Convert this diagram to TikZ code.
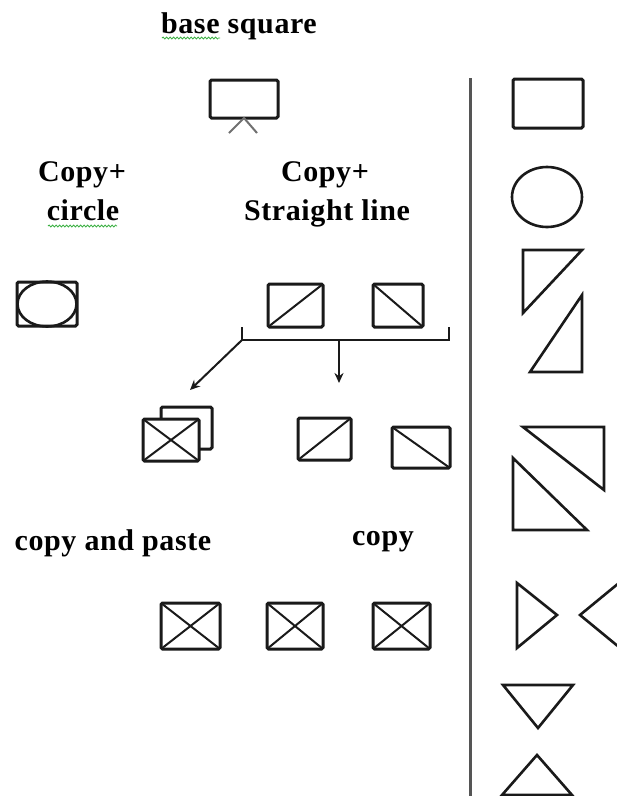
\documentclass[tikz,border=0pt]{standalone}
\usepackage{fontspec}
\setmainfont{Liberation Serif}[LetterSpace=2]
\usetikzlibrary{arrows.meta,decorations.pathmorphing,shapes.geometric}
\definecolor{ink}{HTML}{1A1A1A}
\definecolor{rule}{HTML}{555555}
\definecolor{standgray}{HTML}{707070}
\definecolor{spell}{HTML}{3CB043}
\tikzset{
  lbl/.style={anchor=base,inner sep=0pt,font=\fontsize{30}{34}\selectfont\bfseries,text=black},
  box/.style={draw=ink,line width=3pt,rounded corners=1.5pt,outer sep=0pt,inner sep=0pt,rectangle},
  diag/.style={draw=ink,line width=2pt},
  shp/.style={draw=ink,line width=2.6pt,line join=miter},
  conn/.style={draw=ink,line width=2pt},
  arr/.style={conn,-{Stealth[length=10pt,width=9pt]}},
  wavy/.style={draw=spell,line width=0.8pt,decorate,decoration={snake,segment length=3.5pt,amplitude=1pt}}
}
\begin{document}
\begin{tikzpicture}[x=1pt,y=-1pt]
\useasboundingbox (0,0) rectangle (617,796);
\fill[white] (0,0) rectangle (617,796);
% texts
\node[lbl] (tbase) at (239,33) {base square};
\node[lbl] (tcopy1) at (82,181) {Copy+};
\node[lbl] (tcircle) at (83,220) {circle};
\node[lbl] (tcopy2) at (325,181) {Copy+};
\node[lbl] (tline) at (327,220) {Straight line};
\node[lbl] (tpaste) at (113,550) {copy and paste};
\node[lbl] (tcopy3) at (383,545) {copy};
% spell-check underlines
\coordinate (w1a) at (162,38); \coordinate (w1b) at (220,38);
\draw[wavy] (w1a) -- (w1b);
\coordinate (w2a) at (48,226); \coordinate (w2b) at (117,226);
\draw[wavy] (w2a) -- (w2b);
% base square with stand
\node[box,minimum width=68pt,minimum height=38pt] (base) at (244,99) {};
\coordinate (standL) at (229,133); \coordinate (standR) at (257,133);
\draw[draw=standgray,line width=2pt] (standL) -- (base.south) -- (standR);
% copy + circle
\node[box,minimum width=60pt,minimum height=44pt] (circbox) at (47,304) {};
\node[draw=ink,line width=2.6pt,ellipse,minimum width=59pt,minimum height=45pt,inner sep=0pt,outer sep=0pt] (circ) at (47,304) {};
% copy + straight line
\node[box,minimum width=55pt,minimum height=43pt] (sl1) at (295.5,305.5) {};
\draw[diag] (sl1.south west) -- (sl1.north east);
\node[box,minimum width=50pt,minimum height=43pt] (sl2) at (398,305.5) {};
\draw[diag] (sl2.north west) -- (sl2.south east);
% bracket
\coordinate (brL0) at (242,327); \coordinate (brL) at (242,340);
\coordinate (brR0) at (449,327); \coordinate (brR) at (449,340);
\coordinate (brM) at (339,340);
\draw[conn,line width=2.4pt,line join=miter] (brL0) -- (brL) -- (brR) -- (brR0);
% copy-and-paste stack
\node[box,minimum width=51pt,minimum height=42pt] (cpback) at (186.5,428) {};
\node[box,fill=white,minimum width=56pt,minimum height=42pt] (cpfront) at (171,440) {};
\draw[diag] (cpfront.south west) -- (cpfront.north east);
\draw[diag] (cpfront.north west) -- (cpfront.south east);
% copies
\node[box,minimum width=53pt,minimum height=42pt] (c1) at (324.5,439) {};
\draw[diag] (c1.south west) -- (c1.north east);
\node[box,minimum width=58pt,minimum height=41pt] (c2) at (421,447.5) {};
\draw[diag] (c2.north west) -- (c2.south east);
% arrows
\coordinate (aDiag) at (190,390);
\coordinate (aDown) at (339,383);
\draw[arr] (brL) -- (aDiag);
\draw[arr] (brM) -- (aDown);
% bottom row
\foreach \n/\cx/\w in {x1/190.5/59, x2/295/56, x3/401.5/57}{
  \node[box,minimum width=\w pt,minimum height=46pt] (\n) at (\cx,626) {};
  \draw[diag] (\n.south west) -- (\n.north east);
  \draw[diag] (\n.north west) -- (\n.south east);
}
% divider
\coordinate (divT) at (470,78); \coordinate (divB) at (470,800);
\draw[draw=rule,line width=3pt] (divT) -- (divB);
% right column
\node[box,minimum width=70pt,minimum height=49pt] (rrect) at (548,103.5) {};
\node[draw=ink,line width=2.6pt,ellipse,minimum width=70pt,minimum height=60pt,inner sep=0pt] (rell) at (547,197) {};
\begin{scope}
\clip (0,0) rectangle (617,796);
\draw[shp] (523,250) -- (582,250) -- (523,313) -- cycle;
\draw[shp] (582,295) -- (582,372) -- (530,372) -- cycle;
\draw[shp] (523,427) -- (604,427) -- (604,490) -- cycle;
\draw[shp] (513,458) -- (513,530) -- (587,530) -- cycle;
\draw[shp] (517,583) -- (557,615) -- (517,648) -- cycle;
\draw[shp] (625,578) -- (580,615) -- (625,652) -- cycle;
\draw[shp] (503,685) -- (573,685) -- (538,728) -- cycle;
\draw[shp] (537,755) -- (572,795) -- (502,795) -- cycle;
\end{scope}
\end{tikzpicture}
\end{document}
